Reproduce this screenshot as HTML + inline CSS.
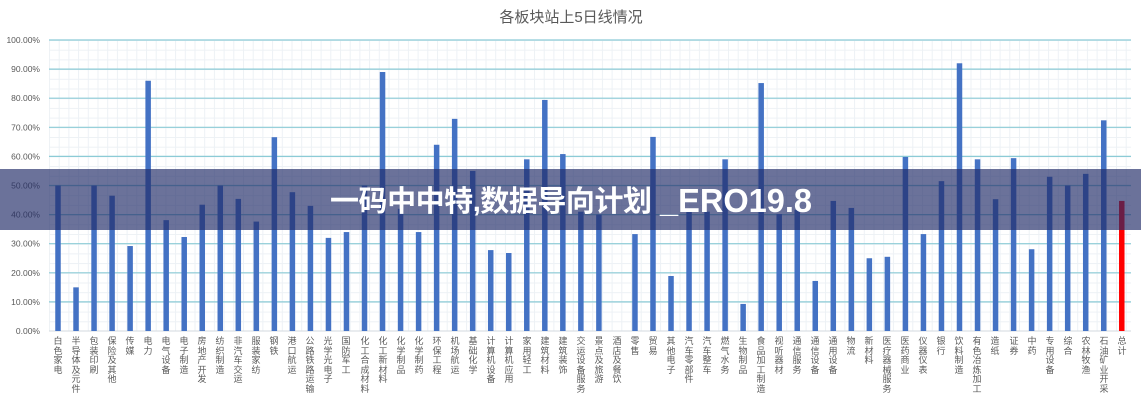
<!DOCTYPE html>
<html><head><meta charset="utf-8"><style>
html,body{margin:0;padding:0;background:#fff;}
#c{position:relative;width:1141px;height:400px;overflow:hidden;background:#fff;}
svg{position:absolute;left:0;top:0;}
.l{position:absolute;top:337px;width:10px;font-size:9px;line-height:9.6px;text-align:center;word-break:break-all;color:#5a5a5a;font-family:"Liberation Sans","Noto Sans CJK SC",sans-serif;}
</style></head><body><div id="c">
<svg width="1141" height="400" viewBox="0 0 1141 400" xmlns="http://www.w3.org/2000/svg">
<defs>
<pattern id="mg" x="49" y="40" width="9.7" height="9.7" patternUnits="userSpaceOnUse">
<path d="M0 0.5H9.7M0.5 0V9.7" stroke="#edf1f5" stroke-width="1" fill="none"/>
</pattern>
</defs>
<text x="571" y="22" text-anchor="middle" font-family="Liberation Sans, Noto Sans CJK SC, sans-serif" font-size="15" fill="#595959">各板块站上5日线情况</text>
<rect x="49" y="40" width="1082" height="291" fill="url(#mg)"/>
<g stroke="#8ccbd6" stroke-width="1.2">
<line x1="49" x2="1131" y1="40" y2="40"/>
<line x1="49" x2="1131" y1="69.1" y2="69.1"/>
<line x1="49" x2="1131" y1="98.2" y2="98.2"/>
<line x1="49" x2="1131" y1="127.3" y2="127.3"/>
<line x1="49" x2="1131" y1="156.4" y2="156.4"/>
<line x1="49" x2="1131" y1="185.5" y2="185.5"/>
<line x1="49" x2="1131" y1="214.6" y2="214.6"/>
<line x1="49" x2="1131" y1="243.7" y2="243.7"/>
<line x1="49" x2="1131" y1="272.8" y2="272.8"/>
<line x1="49" x2="1131" y1="301.9" y2="301.9"/>
</g>
<line x1="49" x2="1131" y1="331" y2="331" stroke="#d3dadf" stroke-width="1"/>
<g font-family="Liberation Sans, sans-serif" font-size="8.5" fill="#595959" text-anchor="end">
<text x="40" y="43">100.00%</text>
<text x="40" y="72.1">90.00%</text>
<text x="40" y="101.2">80.00%</text>
<text x="40" y="130.3">70.00%</text>
<text x="40" y="159.4">60.00%</text>
<text x="40" y="188.5">50.00%</text>
<text x="40" y="217.6">40.00%</text>
<text x="40" y="246.7">30.00%</text>
<text x="40" y="275.8">20.00%</text>
<text x="40" y="304.9">10.00%</text>
<text x="40" y="334">0.00%</text>
</g>
<g fill="#4472c4">
<rect x="55.25" y="185.5" width="5.5" height="145.5"/>
<rect x="73.28" y="287.35" width="5.5" height="43.65"/>
<rect x="91.31" y="185.5" width="5.5" height="145.5"/>
<rect x="109.34" y="195.69" width="5.5" height="135.31"/>
<rect x="127.37" y="246.03" width="5.5" height="84.97"/>
<rect x="145.4" y="80.74" width="5.5" height="250.26"/>
<rect x="163.43" y="220.13" width="5.5" height="110.87"/>
<rect x="181.46" y="237.01" width="5.5" height="93.99"/>
<rect x="199.49" y="204.71" width="5.5" height="126.29"/>
<rect x="217.52" y="185.5" width="5.5" height="145.5"/>
<rect x="235.55" y="198.89" width="5.5" height="132.11"/>
<rect x="253.58" y="221.58" width="5.5" height="109.42"/>
<rect x="271.61" y="137.19" width="5.5" height="193.81"/>
<rect x="289.64" y="192.19" width="5.5" height="138.81"/>
<rect x="307.67" y="205.87" width="5.5" height="125.13"/>
<rect x="325.7" y="237.88" width="5.5" height="93.12"/>
<rect x="343.73" y="232.06" width="5.5" height="98.94"/>
<rect x="361.76" y="185.5" width="5.5" height="145.5"/>
<rect x="379.79" y="72.01" width="5.5" height="258.99"/>
<rect x="397.82" y="208.78" width="5.5" height="122.22"/>
<rect x="415.85" y="232.06" width="5.5" height="98.94"/>
<rect x="433.88" y="144.76" width="5.5" height="186.24"/>
<rect x="451.91" y="118.86" width="5.5" height="212.14"/>
<rect x="469.94" y="170.95" width="5.5" height="160.05"/>
<rect x="487.97" y="250.1" width="5.5" height="80.9"/>
<rect x="506" y="253.01" width="5.5" height="77.99"/>
<rect x="524.03" y="159.31" width="5.5" height="171.69"/>
<rect x="542.06" y="99.95" width="5.5" height="231.05"/>
<rect x="560.09" y="154.07" width="5.5" height="176.93"/>
<rect x="578.12" y="211.69" width="5.5" height="119.31"/>
<rect x="596.15" y="214.6" width="5.5" height="116.4"/>
<rect x="632.21" y="234.1" width="5.5" height="96.9"/>
<rect x="650.24" y="136.9" width="5.5" height="194.1"/>
<rect x="668.27" y="276" width="5.5" height="55"/>
<rect x="686.3" y="208.78" width="5.5" height="122.22"/>
<rect x="704.33" y="211.69" width="5.5" height="119.31"/>
<rect x="722.36" y="159.31" width="5.5" height="171.69"/>
<rect x="740.39" y="303.94" width="5.5" height="27.06"/>
<rect x="758.42" y="83.07" width="5.5" height="247.93"/>
<rect x="776.45" y="214.02" width="5.5" height="116.98"/>
<rect x="794.48" y="209.94" width="5.5" height="121.06"/>
<rect x="812.51" y="280.95" width="5.5" height="50.05"/>
<rect x="830.54" y="200.92" width="5.5" height="130.08"/>
<rect x="848.57" y="207.91" width="5.5" height="123.09"/>
<rect x="866.6" y="258.25" width="5.5" height="72.75"/>
<rect x="884.63" y="256.8" width="5.5" height="74.2"/>
<rect x="902.66" y="156.98" width="5.5" height="174.02"/>
<rect x="920.69" y="234.1" width="5.5" height="96.9"/>
<rect x="938.72" y="181.14" width="5.5" height="149.86"/>
<rect x="956.75" y="63.28" width="5.5" height="267.72"/>
<rect x="974.78" y="159.31" width="5.5" height="171.69"/>
<rect x="992.81" y="199.18" width="5.5" height="131.82"/>
<rect x="1010.84" y="158.15" width="5.5" height="172.85"/>
<rect x="1028.87" y="249.23" width="5.5" height="81.77"/>
<rect x="1046.9" y="176.77" width="5.5" height="154.23"/>
<rect x="1064.93" y="185.5" width="5.5" height="145.5"/>
<rect x="1082.96" y="173.86" width="5.5" height="157.14"/>
<rect x="1100.99" y="120.32" width="5.5" height="210.68"/>
</g>
<rect x="1119.02" y="200.92" width="5.5" height="130.08" fill="#ff0000"/>
<rect x="0" y="169" width="1141" height="61" fill="rgb(35,44,104)" fill-opacity="0.67"/>
<text x="330" y="211" font-family="Liberation Sans, Noto Sans CJK SC, sans-serif" font-weight="bold" font-size="29" fill="#ffffff" textLength="322" lengthAdjust="spacing">一码中中特,数据导向计划</text>
<text x="660" y="212" font-family="Liberation Sans, sans-serif" font-weight="bold" font-size="33" fill="#ffffff" textLength="152" lengthAdjust="spacingAndGlyphs">_ERO19.8</text>
</svg>
<div class="l" style="left:53px">白色家电</div>
<div class="l" style="left:71px">半导体及元件</div>
<div class="l" style="left:89px">包装印刷</div>
<div class="l" style="left:107px">保险及其他</div>
<div class="l" style="left:125px">传媒</div>
<div class="l" style="left:143px">电力</div>
<div class="l" style="left:161px">电气设备</div>
<div class="l" style="left:179px">电子制造</div>
<div class="l" style="left:197px">房地产开发</div>
<div class="l" style="left:215px">纺织制造</div>
<div class="l" style="left:233px">非汽车交运</div>
<div class="l" style="left:251px">服装家纺</div>
<div class="l" style="left:269px">钢铁</div>
<div class="l" style="left:287px">港口航运</div>
<div class="l" style="left:305px">公路铁路运输</div>
<div class="l" style="left:323px">光学光电子</div>
<div class="l" style="left:341px">国防军工</div>
<div class="l" style="left:360px">化工合成材料</div>
<div class="l" style="left:378px">化工新材料</div>
<div class="l" style="left:396px">化学制品</div>
<div class="l" style="left:414px">化学制药</div>
<div class="l" style="left:432px">环保工程</div>
<div class="l" style="left:450px">机场航运</div>
<div class="l" style="left:468px">基础化学</div>
<div class="l" style="left:486px">计算机设备</div>
<div class="l" style="left:504px">计算机应用</div>
<div class="l" style="left:522px">家用轻工</div>
<div class="l" style="left:540px">建筑材料</div>
<div class="l" style="left:558px">建筑装饰</div>
<div class="l" style="left:576px">交运设备服务</div>
<div class="l" style="left:594px">景点及旅游</div>
<div class="l" style="left:612px">酒店及餐饮</div>
<div class="l" style="left:630px">零售</div>
<div class="l" style="left:648px">贸易</div>
<div class="l" style="left:666px">其他电子</div>
<div class="l" style="left:684px">汽车零部件</div>
<div class="l" style="left:702px">汽车整车</div>
<div class="l" style="left:720px">燃气水务</div>
<div class="l" style="left:738px">生物制品</div>
<div class="l" style="left:756px">食品加工制造</div>
<div class="l" style="left:774px">视听器材</div>
<div class="l" style="left:792px">通信服务</div>
<div class="l" style="left:810px">通信设备</div>
<div class="l" style="left:828px">通用设备</div>
<div class="l" style="left:846px">物流</div>
<div class="l" style="left:864px">新材料</div>
<div class="l" style="left:882px">医疗器械服务</div>
<div class="l" style="left:900px">医药商业</div>
<div class="l" style="left:918px">仪器仪表</div>
<div class="l" style="left:936px">银行</div>
<div class="l" style="left:954px">饮料制造</div>
<div class="l" style="left:972px">有色冶炼加工</div>
<div class="l" style="left:990px">造纸</div>
<div class="l" style="left:1009px">证券</div>
<div class="l" style="left:1027px">中药</div>
<div class="l" style="left:1045px">专用设备</div>
<div class="l" style="left:1063px">综合</div>
<div class="l" style="left:1081px">农林牧渔</div>
<div class="l" style="left:1099px">石油矿业开采</div>
<div class="l" style="left:1117px">总计</div>
</div></body></html>
